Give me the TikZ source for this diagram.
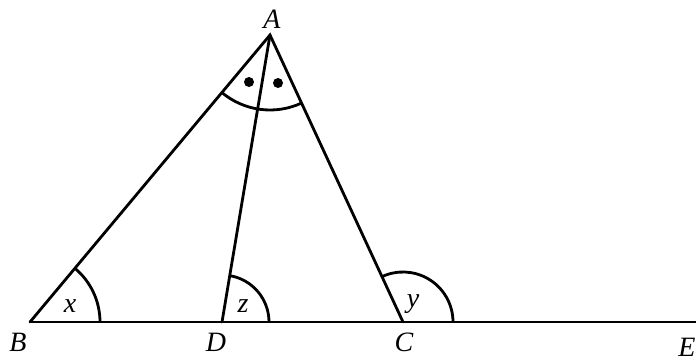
\documentclass[tikz,border=0pt]{standalone}
\usepackage{fontspec}
\setmainfont{Liberation Serif}
\usetikzlibrary{angles}
\begin{document}
\begin{tikzpicture}[x=1pt,y=-1pt,
  seg/.style={line width=2.8pt, line cap=round},
  ang/.style={draw, line width=2.8pt},
  lbl/.style={font=\fontsize{28}{32}\selectfont\itshape, inner sep=0pt}]
\useasboundingbox (0,0) rectangle (696,359);
\coordinate (A) at (270,35);
\coordinate (B) at (30,322);
\coordinate (D) at (222,322);
\coordinate (C) at (403,322);
\coordinate (E) at (697,322);
\draw[seg] (B) -- (A) -- (C);
\draw[seg] (D) -- (A);
\draw[seg, line cap=butt] (B) -- (E);
\pic[ang, angle radius=70pt] {angle = E--B--A};
\pic[ang, angle radius=47pt] {angle = E--D--A};
\pic[ang, angle radius=50pt] {angle = E--C--A};
\pic[ang, angle radius=75pt] {angle = B--A--C};
\fill (249,82) circle (5pt);
\fill (278,83) circle (5pt);
\node[lbl] (lA) at (272,19) {A};
\node[lbl] (lB) at (18,342) {B};
\node[lbl] (lD) at (216,342) {D};
\node[lbl] (lC) at (404,342) {C};
\node[lbl] (lE) at (687,347) {E};
\node[lbl] (lx) at (70,306) {x};
\node[lbl] (lz) at (243,306) {z};
\node[lbl] (ly) at (413,304) {y};
\end{tikzpicture}
\end{document}
